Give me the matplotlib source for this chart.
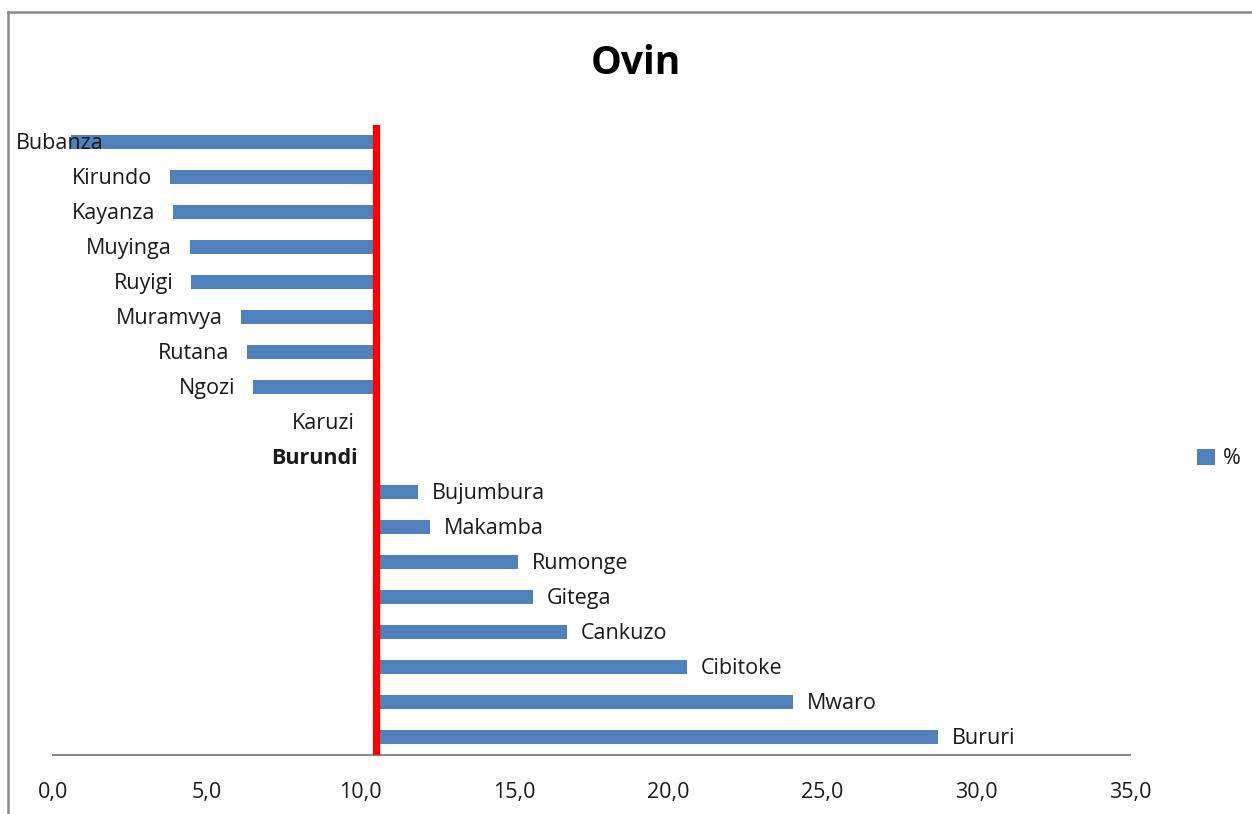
import matplotlib.pyplot as plt
from matplotlib.lines import Line2D
import matplotlib.transforms as mtransforms

# provinces, top to bottom, and the national value the bars start from
provinces = ["Bubanza", "Kirundo", "Kayanza", "Muyinga", "Ruyigi", "Muramvya",
             "Rutana", "Ngozi", "Karuzi", "Burundi", "Bujumbura", "Makamba",
             "Rumonge", "Gitega", "Cankuzo", "Cibitoke", "Mwaro", "Bururi"]
values = [0.6, 3.8, 3.9, 4.45, 4.5, 6.1, 6.3, 6.5, 10.4, 10.5, 11.85, 12.25,
          15.1, 15.6, 16.7, 20.6, 24.05, 28.75]
burundi = 10.5
xticks = [0, 5, 10, 15, 20, 25, 30, 35]

plt.rcParams['font.family'] = ['Open Sans', 'DejaVu Sans']
blue = '#4F81BD'
txt = '#1a1a1a'
fs = 15.5

W, H = 1252, 814
fig = plt.figure(figsize=(W / 100, H / 100), dpi=100)
ax = fig.add_axes([53 / W, 1 - 754.5 / H, (1130 - 53) / W, (754.5 - 124.5) / H])

n = len(provinces)
ypos = [n - 1 - i for i in range(n)]
widths = [v - burundi for v in values]
ax.barh(ypos, widths, left=burundi, height=0.4, color=blue, label='%', zorder=2)
ax.axvline(burundi, color='#FF0000', lw=5.2, zorder=3)

# category names sit at the bar ends, like Excel data labels
lab_trans = mtransforms.blended_transform_factory(fig.transFigure, ax.transData)
for name, v, y in zip(provinces, values, ypos):
    weight = 'bold' if name == 'Burundi' else 'normal'
    if v > burundi:
        ax.annotate(name, (v, y), xytext=(10, -1.2), textcoords='offset points',
                    ha='left', va='center', fontsize=fs, color=txt, weight=weight)
    elif v < 2:
        ax.annotate(name, (16 / W, y), xycoords=lab_trans, xytext=(0, -1.2),
                    textcoords='offset points', ha='left', va='center',
                    fontsize=fs, color=txt, weight=weight)
    else:
        ax.annotate(name, (min(v, burundi), y), xytext=(-13, -1.2), textcoords='offset points',
                    ha='right', va='center', fontsize=fs, color=txt, weight=weight)

ax.set_xlim(0, 35)
ax.set_ylim(-0.5, n - 0.5)
ax.set_xticks(xticks)
ax.set_xticklabels([f"{t:.1f}".replace('.', ',') for t in xticks], fontsize=15.5, color=txt)
ax.tick_params(axis='x', length=0, pad=20)
ax.set_yticks([])
for s in ['top', 'right', 'left']:
    ax.spines[s].set_visible(False)
ax.spines['bottom'].set_color('#8c8c8c')
ax.spines['bottom'].set_linewidth(1.5)

fig.text(636 / W, 1 - 64 / H, "Ovin", ha='center', va='center', fontsize=28,
         weight='bold', color='black')

fig.legend(loc='center left', bbox_to_anchor=(1178 / W, 1 - 459 / H), frameon=False,
           handlelength=0.8, handleheight=0.8, handletextpad=0.4, fontsize=fs,
           labelcolor=txt)

# chart frame (top and left edges visible)
fig.add_artist(Line2D([8 / W, 1], [1 - 12 / H, 1 - 12 / H], transform=fig.transFigure,
                      color='#8a8a8a', lw=1.8))
fig.add_artist(Line2D([8 / W, 8 / W], [0, 1 - 12 / H], transform=fig.transFigure,
                      color='#8a8a8a', lw=1.8))

fig.savefig('out.png', dpi=100)
